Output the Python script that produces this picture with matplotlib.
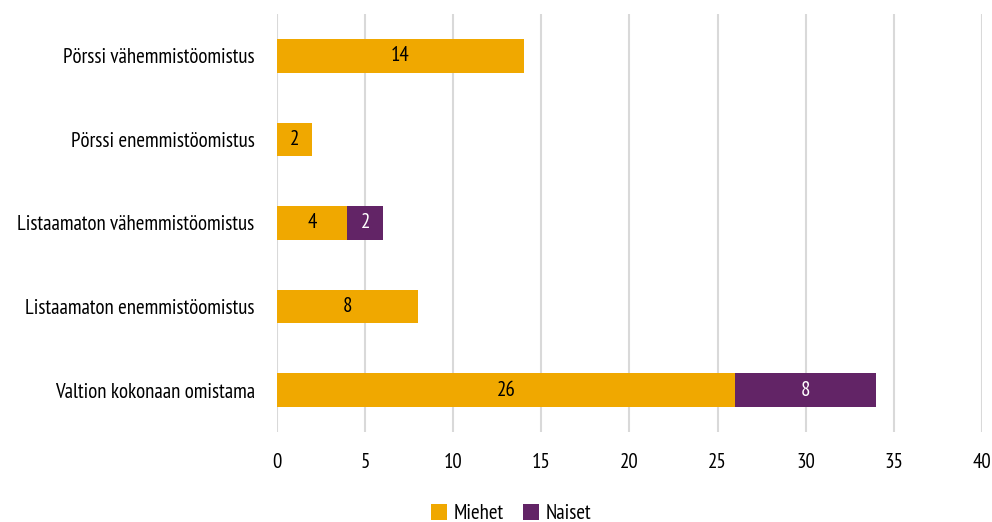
import matplotlib
matplotlib.use("Agg")
import matplotlib.pyplot as plt
from matplotlib import font_manager

names = {f.name for f in font_manager.fontManager.ttflist}
fam = next((n for n in ["PT Sans Narrow", "Fira Sans Condensed", "Roboto Condensed",
                        "Open Sans Condensed", "DejaVu Sans"] if n in names), "DejaVu Sans")
plt.rcParams['font.family'] = [fam, 'DejaVu Sans']

categories = ["Pörssi vähemmistöomistus", "Pörssi enemmistöomistus",
              "Listaamaton vähemmistöomistus", "Listaamaton enemmistöomistus",
              "Valtion kokonaan omistama"]
miehet = [14, 2, 4, 8, 26]
naiset = [0, 0, 2, 0, 8]
xticks = [0, 5, 10, 15, 20, 25, 30, 35, 40]

c_m = "#F0A800"
c_n = "#622466"
FS = 15

fig = plt.figure(figsize=(9.92, 5.22), dpi=100)
ax = fig.add_axes([0.2792, 0.1724, 0.9899 - 0.2792, 0.9732 - 0.1724])

y = list(range(len(categories)))
bm = ax.barh(y, miehet, height=0.4, color=c_m, label="Miehet", zorder=3)
bn = ax.barh(y, naiset, left=miehet, height=0.4, color=c_n, label="Naiset", zorder=3)

for i in y:
    if miehet[i]:
        ax.text(miehet[i] / 2, i, str(miehet[i]), ha="center", va="center",
                fontsize=FS, color="black", zorder=4)
    if naiset[i]:
        ax.text(miehet[i] + naiset[i] / 2, i, str(naiset[i]), ha="center", va="center",
                fontsize=FS, color="white", zorder=4)

ax.set_xlim(0, 40)
ax.set_ylim(len(categories) - 0.5, -0.5)
ax.set_xticks(xticks)
ax.set_yticks(y)
ax.set_yticklabels(categories)
ax.xaxis.grid(True, color="#d9d9d9", linewidth=1.5, zorder=0)
for s in ax.spines.values():
    s.set_visible(False)
ax.tick_params(length=0, labelsize=FS, colors="black")
ax.tick_params(axis="x", pad=15)
ax.tick_params(axis="y", pad=16)

fig.legend(handles=[bm, bn], loc="lower center", bbox_to_anchor=(0.515, -0.038), ncol=2,
           frameon=False, fontsize=FS, handlelength=0.8, handleheight=0.8,
           handletextpad=0.3, columnspacing=0.9)

fig.savefig("out.png", dpi=100)
